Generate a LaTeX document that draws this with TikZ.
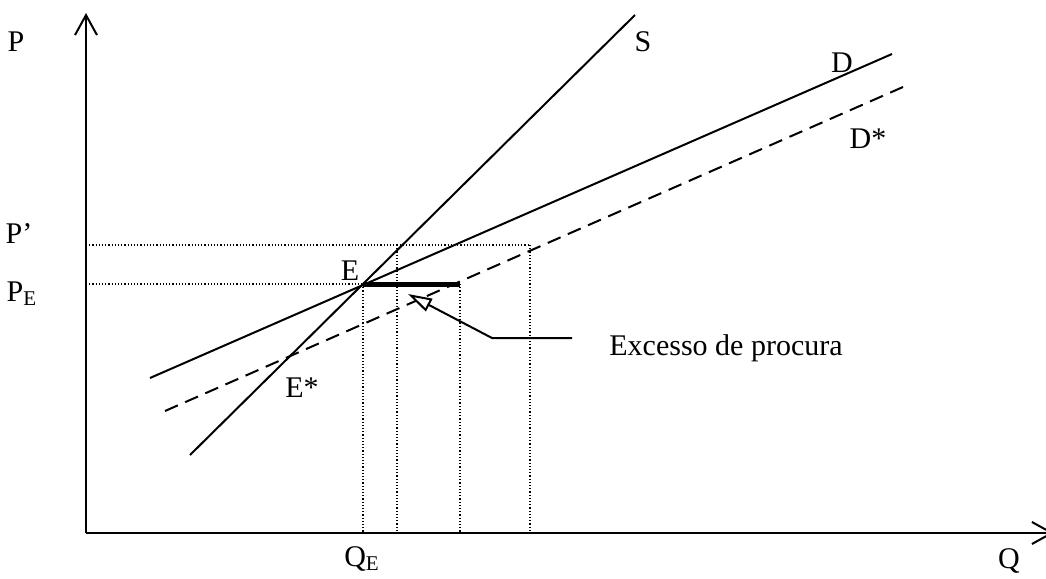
\documentclass[tikz,border=0pt]{standalone}
\usepackage{fontspec}
\setmainfont{Liberation Serif}
\usetikzlibrary{arrows.meta}

\begin{document}
\begin{tikzpicture}[
  x=0.5pt, y=-0.5pt,
  font=\fontsize{15}{18}\selectfont,
  curve/.style={draw=black, line width=1pt},
  dcurve/.style={draw=black, line width=1pt, dash pattern=on 7pt off 4pt},
  guide/.style={draw=black, line width=0.6pt, densely dotted},
  axis/.style={draw=black, line width=1.1pt, -{Straight Barb[length=10pt, width=11pt, line width=1pt]}},
  lbl/.style={inner sep=0pt}
]
  \useasboundingbox (0,0) rectangle (1046,579);
  % axes
  \coordinate (origin) at (86,533);
  \coordinate (ptop) at (86,13);
  \coordinate (qend) at (1054,533);
  \draw[axis] (origin) -- (ptop);
  \draw[axis] (origin) -- (qend);
  % supply and demand
  \coordinate (s0) at (190,455);
  \coordinate (s1) at (635,15);
  \coordinate (d0) at (150,378);
  \coordinate (d1) at (892,54);
  \coordinate (ds0) at (165,411);
  \coordinate (ds1) at (903,87);
  \draw[curve] (s0) -- (s1);
  \draw[curve] (d0) -- (d1);
  \draw[dcurve] (ds0) -- (ds1);
  % price levels and quantities
  \coordinate (eq) at (363,284);
  \coordinate (pp) at (530,245);
  \draw[guide] (86,245) -- (pp);
  \draw[guide] (86,284) -- (eq);
  \draw[guide] (eq) -- (363,533);
  \draw[guide] (397,245) -- (397,533);
  \draw[guide] (460,284) -- (460,533);
  \draw[guide] (pp) -- (530,533);
  \draw[black, line width=2.5pt] (eq) -- (460,284);
  % callout
  \node[lbl, anchor=base west] (excess) at (609,355) {Excesso de procura};
  \coordinate (callstart) at (572,338);
  \coordinate (callbend) at (492,338);
  \coordinate (calltip) at (408,294);
  \draw[black, line width=1pt, -{Triangle[open, length=12pt, width=7pt, fill=white]}] (callstart) -- (callbend) -- (calltip);
  % labels
  \node[lbl] (plbl) at (16,42) {P};
  \node[lbl] (pprime) at (19,234) {P'};
  \node[lbl] (pe) at (22,294) {P\textsubscript{E}};
  \node[lbl] (elbl) at (350,271) {E};
  \node[lbl] (estar) at (302,388) {E*};
  \node[lbl] (slbl) at (643,42) {S};
  \node[lbl] (dlbl) at (842,63) {D};
  \node[lbl] (dstar) at (868,139) {D*};
  \node[lbl] (qe) at (362,559) {Q\textsubscript{E}};
  \node[lbl] (qlbl) at (1009,561) {Q};
\end{tikzpicture}
\end{document}
